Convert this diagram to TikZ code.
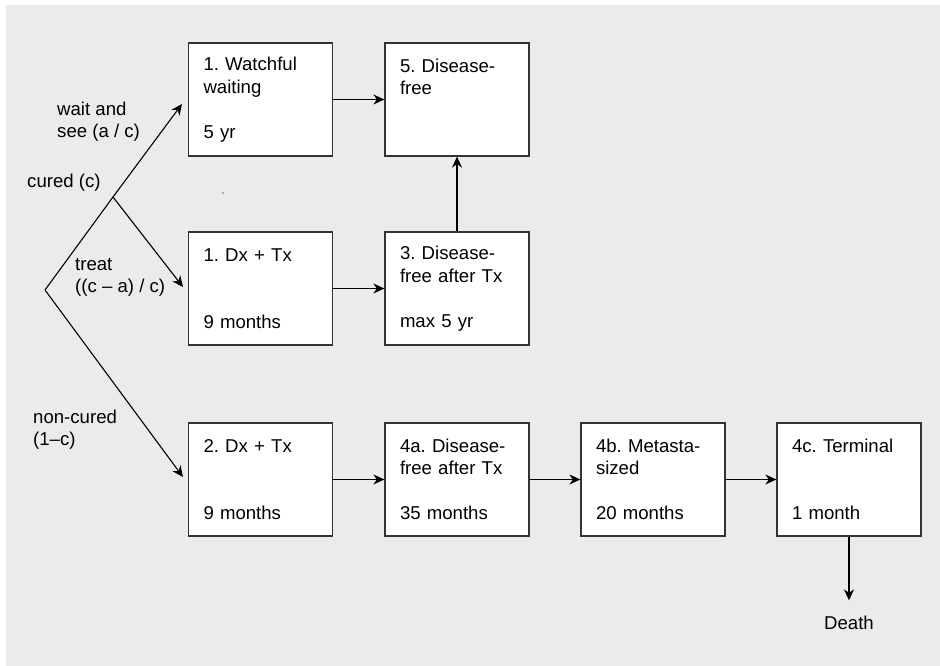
\documentclass[tikz,border=0pt]{standalone}
\usepackage{fontspec}
\setmainfont{Liberation Sans}
\usetikzlibrary{arrows.meta}
\definecolor{panel}{HTML}{EBEBEB}
\definecolor{edge}{HTML}{333333}
\frenchspacing

\begin{document}
\begin{tikzpicture}[x=1pt,y=-1pt,
    every node/.style={font=\fontsize{18.6}{22.5}\selectfont},
    stage/.style={draw=edge,line width=1.3pt,fill=white,minimum height=113pt,
      text width=114pt,inner xsep=15pt,inner ysep=0pt,align=left},
    lbl/.style={align=left,anchor=west,inner sep=0pt},
    arr/.style={-{Stealth[length=11pt,width=10pt]},line width=1.1pt}]
  \useasboundingbox (0,0) rectangle (940,666);
  \fill[white] (0,0) rectangle (940,666);
  \fill[panel] (6,5) rectangle (940,666);
  % cured, wait and see
  \node[stage] (wait) at (260.5,99.5) {1. Watchful\\waiting\\\mbox{}\\5 yr};
  \node[stage] (free) at (457,99.5) {5. Disease-\\free\\\mbox{}\\\mbox{}};
  % cured, treat
  \node[stage] (dxa) at (260.5,288.5) {1. Dx + Tx\\\mbox{}\\\mbox{}\\9 months};
  \node[stage] (freetx) at (457,288.5) {3. Disease-\\free after Tx\\\mbox{}\\max 5 yr};
  % non-cured
  \node[stage] (dxb) at (260.5,479.5) {2. Dx + Tx\\\mbox{}\\\mbox{}\\9 months};
  \node[stage] (nonfree) at (457,479.5) {4a. Disease-\\free after Tx\\\mbox{}\\35 months};
  \node[stage] (meta) at (653,479.5) {4b. Metasta-\\sized\\\mbox{}\\20 months};
  \node[stage] (term) at (849,479.5) {4c. Terminal\\\mbox{}\\\mbox{}\\1 month};
  \node[lbl,anchor=base] (death) at (849,629) {Death};
  \draw[arr] (wait) -- (free);
  \draw[arr] (dxa) -- (freetx);
  \draw[arr] (freetx) -- (free);
  \draw[arr] (dxb) -- (nonfree);
  \draw[arr] (nonfree) -- (meta);
  \draw[arr] (meta) -- (term);
  \draw[arr,shorten >=15pt] (term) -- (death);
  % decision tree
  \coordinate (root) at (45,290);
  \coordinate (fork) at (113,197);
  \coordinate (waittip) at (182,104);
  \coordinate (dxatip) at (183,287);
  \coordinate (dxbtip) at (183,477);
  \draw[line width=1.1pt] (root) -- (fork);
  \draw[arr] (fork) -- (waittip);
  \draw[arr] (fork) -- (dxatip);
  \draw[arr] (root) -- (dxbtip);
  \node[lbl] (waitlbl) at (57,121.5) {wait and\\see (a / c)};
  \node[lbl] (curedlbl) at (27,183) {cured (c)};
  \node[lbl] (treatlbl) at (75,277.5) {treat\\((c – a) / c)};
  \node[lbl] (noncurlbl) at (33,429.5) {non-cured\\(1–c)};
  \fill[edge!70] (223,193) circle (0.9);
\end{tikzpicture}
\end{document}
